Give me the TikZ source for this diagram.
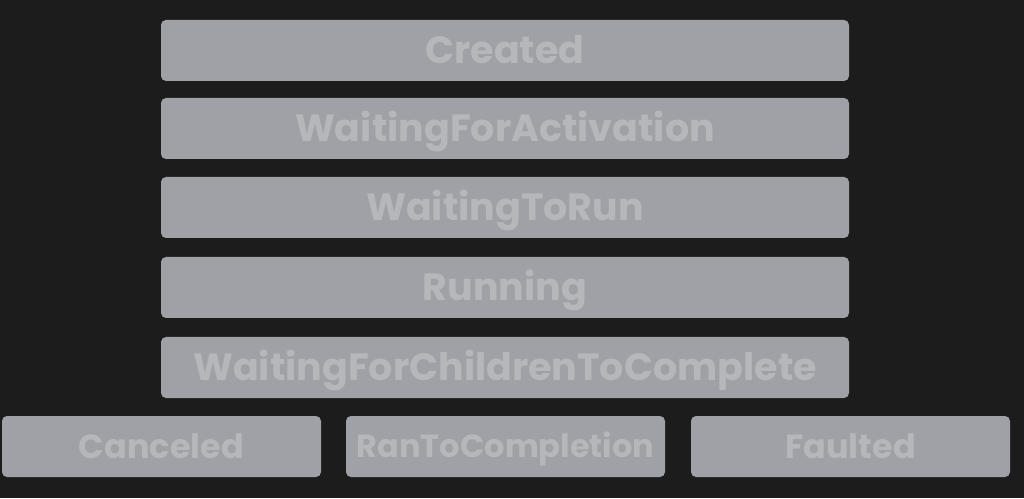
\documentclass[tikz,border=0pt]{standalone}
\usepackage{fontspec}
\setmainfont{Poppins}
\definecolor{bg}{HTML}{1C1C1C}
\definecolor{boxfill}{HTML}{A0A1A6}
\definecolor{boxtext}{HTML}{B6B7BB}
\begin{document}
\begin{tikzpicture}[x=1pt,y=1pt,
  statebox/.style={fill=boxfill, rounded corners=5pt, inner sep=0pt},
  lbl/.style={text=boxtext, inner sep=0pt, anchor=base, font=\fontsize{#1}{#1}\selectfont\bfseries},
  lbl/.default=38]
\fill[bg] (0,0) rectangle (1024,498);
\useasboundingbox (0,0) rectangle (1024,498);
% top stack: x 161..849
\foreach \n/\t/\y in {created/Created/20, wfa/WaitingForActivation/98, wtr/WaitingToRun/177, run/Running/257, wfc/WaitingForChildrenToComplete/337}{
  \fill[statebox] (161,498-\y) rectangle (849,498-\y-61);
  \node[lbl] (\n) at (505,498-\y-30.5-0.35*38) {\t};
}
\foreach \n/\t/\x/\s in {can/Canceled/2/33.5, rtc/RanToCompletion/346/32, fau/Faulted/691/33.5}{
  \fill[statebox] (\x,498-416) rectangle (\x+319,498-477);
  \node[lbl=\s] (\n) at (\x+159.5,498-446.5-0.35*\s) {\t};
}
\end{tikzpicture}
\end{document}
